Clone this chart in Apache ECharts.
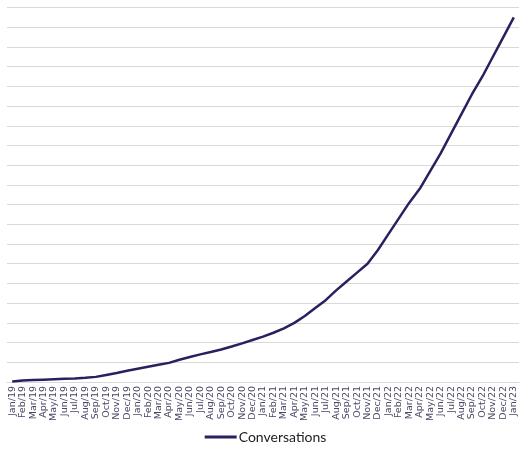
<!DOCTYPE html>
<html>
<head>
<meta charset="utf-8">
<script src="https://cdn.jsdelivr.net/npm/echarts@6/dist/echarts.min.js"></script>
<style>html,body{margin:0;padding:0;background:#fff;}#c{width:531px;height:456px;}</style>
</head>
<body>
<div id="c"></div>
<script>
const categories = ["Jan/19","Feb/19","Mar/19","Apr/19","May/19","Jun/19","Jul/19","Aug/19","Sep/19","Oct/19","Nov/19","Dec/19",
"Jan/20","Feb/20","Mar/20","Apr/20","May/20","Jun/20","Jul/20","Aug/20","Sep/20","Oct/20","Nov/20","Dec/20",
"Jan/21","Feb/21","Mar/21","Apr/21","May/21","Jun/21","Jul/21","Aug/21","Sep/21","Oct/21","Nov/21","Dec/21",
"Jan/22","Feb/22","Mar/22","Apr/22","May/22","Jun/22","Jul/22","Aug/22","Sep/22","Oct/22","Nov/22","Dec/22","Jan/23"];
const conversations = [0.03,0.07,0.10,0.12,0.14,0.16,0.18,0.21,0.26,0.36,0.46,0.57,
0.67,0.77,0.87,0.97,1.13,1.27,1.40,1.52,1.65,1.80,1.96,2.13,
2.30,2.50,2.72,3.00,3.35,3.75,4.15,4.65,5.10,5.55,6.00,6.70,
7.50,8.30,9.10,9.80,10.70,11.60,12.60,13.60,14.60,15.50,16.50,17.50,18.50];
const seriesName = "Conversations";

const chart = echarts.init(document.getElementById('c'));
chart.setOption({
  animation: false,
  backgroundColor: '#fff',
  grid: { left: 7, right: 12, top: 7.5, bottom: 74, containLabel: false },
  legend: {
    data: [{ name: seriesName, icon: 'rect' }],
    bottom: 7,
    left: 'center',
    itemWidth: 32,
    itemHeight: 3,
    textStyle: { fontFamily: 'Lato', fontSize: 14, color: '#222', padding: [0, 0, 0, -3] }
  },
  xAxis: {
    type: 'category',
    data: categories,
    boundaryGap: true,
    axisLine: { show: true, lineStyle: { color: '#d9d9d9', width: 1 } },
    axisTick: { show: false },
    axisLabel: { rotate: 90, interval: 0, fontSize: 9.5, fontFamily: 'DejaVu Sans', color: '#4a4563', margin: 4 }
  },
  yAxis: {
    type: 'value',
    min: 0, max: 19, interval: 1,
    axisLabel: { show: false },
    axisLine: { show: false },
    axisTick: { show: false },
    splitLine: { lineStyle: { color: '#d9d9d9', width: 1 } }
  },
  series: [{
    name: seriesName,
    type: 'line',
    data: conversations,
    smooth: false,
    showSymbol: false,
    lineStyle: { color: '#2b1f5e', width: 2.5 },
    itemStyle: { color: '#2b1f5e' }
  }]
});
</script>
</body>
</html>
